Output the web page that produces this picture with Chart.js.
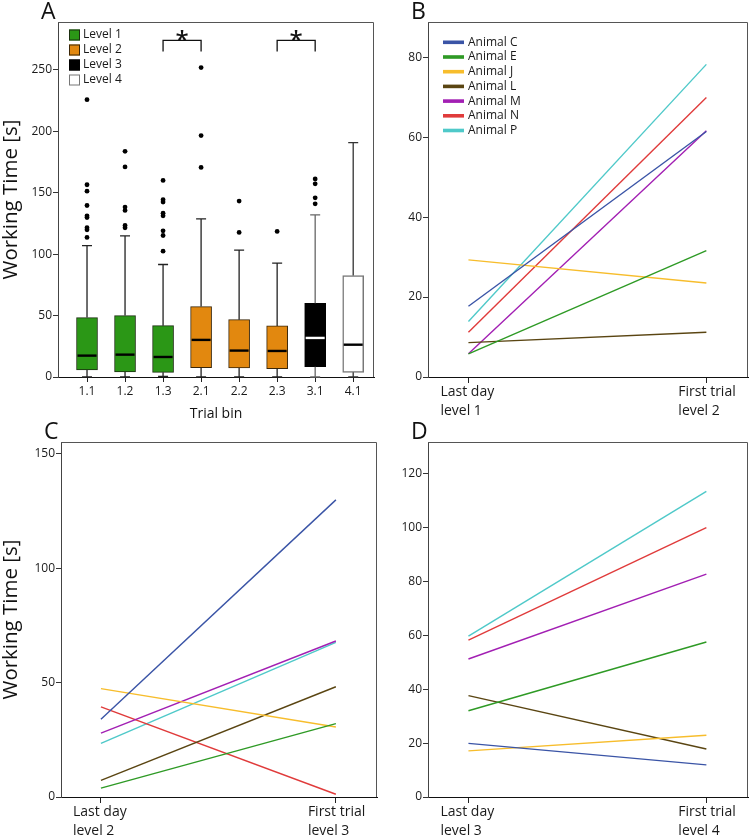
<!DOCTYPE html>
<html>
<head>
<meta charset="utf-8">
<title>Working time per trial bin</title>
<script src="https://cdn.jsdelivr.net/npm/chart.js@4.4.1/dist/chart.umd.min.js"></script>
<style>
    html, body { margin: 0; padding: 0; background: #fff; }
    #page { position: relative; width: 750px; height: 839px; overflow: hidden; font-family: 'Open Sans', sans-serif; }
    #page canvas { position: absolute; }
    .panel-letter { position: absolute; font-size: 23px; line-height: 23px; color: #111; }
</style>
</head>
<body>
<div id="page">
    <canvas id="chartA" width="378" height="425" style="left:0;top:0"></canvas>
    <canvas id="chartB" width="374" height="425" style="left:375px;top:0"></canvas>
    <canvas id="chartC" width="378" height="419" style="left:0;top:420px"></canvas>
    <canvas id="chartD" width="374" height="419" style="left:375px;top:420px"></canvas>
    <div class="panel-letter" style="left:41px;top:-1px">A</div>
    <div class="panel-letter" style="left:411px;top:-1px">B</div>
    <div class="panel-letter" style="left:44px;top:419px">C</div>
    <div class="panel-letter" style="left:411px;top:419px">D</div>
</div>
<script>
// ---- panel A: box plot per trial bin ----
const trialBins = ['1.1', '1.2', '1.3', '2.1', '2.2', '2.3', '3.1', '4.1'];
const binLevel = [1, 1, 1, 2, 2, 2, 3, 4];
const levelNames = ['Level 1', 'Level 2', 'Level 3', 'Level 4'];
const whiskerLow = [0, 0, 0.4, 0, 0, 0, 0, 0];
const q1 = [5.7, 4.1, 3.8, 7.6, 7.3, 6.8, 8.4, 3.8];
const median = [17.4, 18.2, 16.3, 30.2, 21.5, 21.2, 31.8, 26.3];
const q3 = [48.4, 50.0, 41.8, 57.3, 46.7, 41.6, 60.0, 82.6];
const whiskerHigh = [107, 114.9, 91.6, 128.8, 103.3, 92.7, 132, 190.8];
const outliers = [
    [225.8, 156.5, 151.3, 139.6, 131.2, 129.8, 121.5, 119.8, 113.6],
    [183.7, 171.0, 138.3, 135.6, 123.4, 121.5],
    [160.0, 144.3, 142.4, 133.4, 131.2, 119.0, 115.2, 102.4],
    [251.9, 196.5, 170.6],
    [143.2, 117.7],
    [118.5],
    [161.2, 157.3, 145.9, 141.0],
    []
];
const sigPairs = [[2, 3], [5, 6]];
const sigBracketTop = 274;
const sigBracketBottom = 265;

// ---- panels B-D: per animal, before / after the level change ----
const animals = ['Animal C', 'Animal E', 'Animal J', 'Animal L', 'Animal M', 'Animal N', 'Animal P'];
const stageLabelsB = [['Last day', 'level 1'], ['First trial', 'level 2']];
const stageLabelsC = [['Last day', 'level 2'], ['First trial', 'level 3']];
const stageLabelsD = [['Last day', 'level 3'], ['First trial', 'level 4']];
const lastDayLevel1 = [17.7, 5.8, 29.3, 8.6, 5.8, 11.2, 13.9];
const firstTrialLevel2 = [61.4, 31.6, 23.5, 11.2, 61.6, 69.9, 78.2];
const lastDayLevel2 = [34.0, 3.9, 47.4, 7.3, 27.9, 39.4, 23.4];
const firstTrialLevel3 = [129.9, 32.1, 30.6, 48.2, 68.2, 1.2, 67.6];
const lastDayLevel3 = [19.9, 32.0, 17.1, 37.6, 51.2, 58.2, 59.7];
const firstTrialLevel4 = [11.9, 57.5, 22.9, 17.8, 82.7, 99.9, 113.4];

// styles
const levelFill = ['#2b9716', '#e2880f', '#000000', '#ffffff'];
const levelBorder = ['#1b2e10', '#3a2608', '#000000', '#777777'];
const levelWhisker = ['#222222', '#222222', '#666666', '#333333'];
const levelMedian = ['#000000', '#000000', '#ffffff', '#000000'];
const animalColors = ['#3a54a6', '#2e9a25', '#f7bd2c', '#5a4512', '#a21fb3', '#e03b3b', '#4fc9c9'];

Chart.defaults.font.family = "'Open Sans', sans-serif";
Chart.defaults.color = '#1a1a1a';
Chart.defaults.animation = false;

// grey frame on top and right of the plot area
const framePlugin = {
    id: 'frame',
    afterDraw(chart) {
        const { ctx, chartArea: a } = chart;
        ctx.save();
        ctx.strokeStyle = '#555';
        ctx.lineWidth = 1;
        ctx.beginPath();
        ctx.moveTo(a.left, a.top + 0.5);
        ctx.lineTo(a.right - 0.5, a.top + 0.5);
        ctx.lineTo(a.right - 0.5, a.bottom);
        ctx.stroke();
        ctx.restore();
    }
};

// whiskers, medians and significance brackets
const boxPlotPlugin = {
    id: 'boxPlot',
    afterDatasetsDraw(chart) {
        const { ctx, scales: { x, y } } = chart;
        const half = 10.5;
        ctx.save();
        trialBins.forEach((bin, i) => {
            const px = x.getPixelForValue(i);
            const lvl = binLevel[i] - 1;
            ctx.strokeStyle = levelWhisker[lvl];
            ctx.lineWidth = 1.3;
            ctx.beginPath();
            ctx.moveTo(px, y.getPixelForValue(q3[i]));
            ctx.lineTo(px, y.getPixelForValue(whiskerHigh[i]));
            ctx.moveTo(px - 5, y.getPixelForValue(whiskerHigh[i]));
            ctx.lineTo(px + 5, y.getPixelForValue(whiskerHigh[i]));
            ctx.moveTo(px, y.getPixelForValue(q1[i]));
            ctx.lineTo(px, y.getPixelForValue(whiskerLow[i]));
            ctx.moveTo(px - 5, y.getPixelForValue(whiskerLow[i]));
            ctx.lineTo(px + 5, y.getPixelForValue(whiskerLow[i]));
            ctx.stroke();

            ctx.strokeStyle = levelMedian[lvl];
            ctx.lineWidth = 2.4;
            ctx.beginPath();
            ctx.moveTo(px - half + 1, y.getPixelForValue(median[i]));
            ctx.lineTo(px + half - 1, y.getPixelForValue(median[i]));
            ctx.stroke();
        });

        ctx.strokeStyle = '#111';
        ctx.lineWidth = 1.3;
        ctx.fillStyle = '#111';
        ctx.font = "600 24px 'Open Sans'";
        ctx.textAlign = 'center';
        ctx.textBaseline = 'alphabetic';
        sigPairs.forEach(([a, b]) => {
            const xa = x.getPixelForValue(a), xb = x.getPixelForValue(b);
            const top = y.getPixelForValue(sigBracketTop), bottom = y.getPixelForValue(sigBracketBottom);
            ctx.beginPath();
            ctx.moveTo(xa, bottom);
            ctx.lineTo(xa, top);
            ctx.lineTo(xb, top);
            ctx.lineTo(xb, bottom);
            ctx.stroke();
            ctx.fillText('*', (xa + xb) / 2, top + 8);
        });
        ctx.restore();
    }
};

const levelLegend = {
    id: 'levelLegend',
    afterDraw(chart) {
        const { ctx, chartArea: a } = chart;
        ctx.save();
        ctx.font = "12px 'Open Sans'";
        ctx.textBaseline = 'middle';
        levelNames.forEach((name, i) => {
            const yc = a.top + 13 + i * 15;
            ctx.fillStyle = levelFill[i];
            ctx.fillRect(a.left + 11, yc - 5.5, 11, 11);
            ctx.strokeStyle = levelBorder[i];
            ctx.lineWidth = 1;
            ctx.strokeRect(a.left + 11.5, yc - 5, 10, 10);
            ctx.fillStyle = '#1a1a1a';
            ctx.fillText(name, a.left + 25, yc);
        });
        ctx.restore();
    }
};

const animalLegend = {
    id: 'animalLegend',
    afterDraw(chart) {
        const { ctx, chartArea: a } = chart;
        ctx.save();
        ctx.font = "12px 'Open Sans'";
        ctx.textBaseline = 'middle';
        chart.data.datasets.forEach((ds, i) => {
            const yc = a.top + 20.3 + i * 14.7;
            ctx.fillStyle = ds.borderColor;
            ctx.fillRect(a.left + 15, yc - 1.8, 21, 3.6);
            ctx.fillStyle = '#1a1a1a';
            ctx.fillText(ds.label, a.left + 40, yc);
        });
        ctx.restore();
    }
};

function valueAxis(width, max, step, title) {
    return {
        type: 'linear',
        min: 0,
        max: max,
        afterFit(scale) {
            scale.width = width;
            scale.paddingTop = 0;
            scale.paddingBottom = 0;
        },
        ticks: { stepSize: step, includeBounds: false, padding: 1, font: { size: 12 }, color: '#1a1a1a' },
        grid: { drawOnChartArea: false, tickLength: 5, color: '#333' },
        border: { color: '#444' },
        title: {
            display: !!title,
            text: title || '',
            font: { size: 20.5, lineHeight: 1.1 },
            padding: 0,
            color: '#111'
        }
    };
}

// two-line stage labels: first line centred on the tick, second line left-aligned with it
function stageAxis(labels, height) {
    return {
        type: 'linear',
        min: -0.17,
        max: 1.175,
        offset: false,
        afterBuildTicks(scale) {
            scale.ticks = labels.map((_, i) => ({ value: i }));
        },
        afterFit(scale) {
            scale.height = height;
            scale.paddingLeft = 0;
            scale.paddingRight = 0;
        },
        ticks: {
            callback: (v) => labels[v],
            font: { size: 14, lineHeight: 1.35 },
            padding: 0,
            align: 'start',
            labelOffset: -28,
            maxRotation: 0,
            autoSkip: false,
            color: '#1a1a1a'
        },
        grid: { drawOnChartArea: false, tickLength: 6, color: '#222', offset: false },
        border: { color: '#111' }
    };
}

function initBoxChart() {
    const outlierPoints = outliers.flatMap((vals, i) => vals.map((v) => ({ x: i, y: v })));
    new Chart(document.getElementById('chartA'), {
        type: 'bar',
        data: {
            datasets: [{
                type: 'scatter',
                data: outlierPoints,
                pointRadius: 2.4,
                pointBackgroundColor: '#000',
                pointBorderWidth: 0
            }, {
                type: 'bar',
                data: trialBins.map((_, i) => ({ x: i, y: [q1[i], q3[i]] })),
                backgroundColor: binLevel.map((l) => levelFill[l - 1]),
                borderColor: binLevel.map((l) => levelBorder[l - 1]),
                borderWidth: binLevel.map((l) => (l === 4 ? 1.5 : 1)),
                borderSkipped: false,
                barThickness: 21
            }]
        },
        options: {
            responsive: false,
            layout: { padding: { top: 22, right: 1, left: 0, bottom: 0 } },
            plugins: { legend: { display: false }, tooltip: { enabled: false } },
            scales: {
                x: {
                    type: 'linear',
                    min: -0.763,
                    max: 7.547,
                    offset: false,
                    afterBuildTicks(scale) {
                        scale.ticks = trialBins.map((_, i) => ({ value: i }));
                    },
                    afterFit(scale) {
                        scale.height = 48;
                        scale.paddingLeft = 0;
                        scale.paddingRight = 0;
                    },
                    ticks: {
                        callback: (v) => trialBins[v],
                        font: { size: 12 },
                        padding: 2,
                        maxRotation: 0,
                        autoSkip: false,
                        color: '#1a1a1a'
                    },
                    grid: { drawOnChartArea: false, tickLength: 5, color: '#222', offset: false },
                    border: { color: '#111' },
                    title: { display: true, text: 'Trial bin', font: { size: 14 }, padding: { top: 0, bottom: 3 }, color: '#111' }
                },
                y: valueAxis(58, 289, 50, 'Working Time [s]')
            }
        },
        plugins: [framePlugin, boxPlotPlugin, levelLegend]
    });
}

function initStageChart(canvasId, labels, before, after, yMax, yStep, yWidth, xHeight, title, extra) {
    new Chart(document.getElementById(canvasId), {
        type: 'line',
        data: {
            datasets: animals.map((name, i) => ({
                label: name,
                data: [{ x: 0, y: before[i] }, { x: 1, y: after[i] }],
                borderColor: animalColors[i],
                borderWidth: 1.4,
                pointRadius: 0,
                fill: false,
                tension: 0
            }))
        },
        options: {
            responsive: false,
            layout: { padding: { top: 22, right: 1, left: 0, bottom: 0 } },
            plugins: { legend: { display: false }, tooltip: { enabled: false } },
            scales: {
                x: stageAxis(labels, xHeight),
                y: valueAxis(yWidth, yMax, yStep, title)
            }
        },
        plugins: [framePlugin].concat(extra || [])
    });
}

initBoxChart();
initStageChart('chartB', stageLabelsB, lastDayLevel1, firstTrialLevel2, 88.8, 20, 53, 48, null, [animalLegend]);
initStageChart('chartC', stageLabelsC, lastDayLevel2, firstTrialLevel3, 155.2, 50, 61, 42, 'Working Time [s]');
initStageChart('chartD', stageLabelsD, lastDayLevel3, firstTrialLevel4, 131.7, 20, 53, 42, null);
</script>
</body>
</html>
